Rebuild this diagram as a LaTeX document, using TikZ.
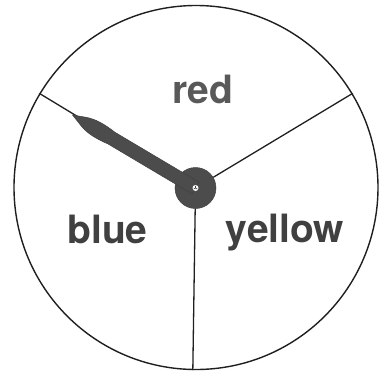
\documentclass[tikz,border=0pt]{standalone}
\usepackage{fontspec}
\setmainfont{TeX Gyre Heros}
\begin{document}
\begin{tikzpicture}[x=1bp,y=-1bp,
  rim/.style={draw=black!88, line width=1.4bp, circle, minimum size=364bp, inner sep=0pt},
  divider/.style={draw=black!88, line width=1.3bp},
  sector/.style={font=\fontsize{39bp}{42bp}\selectfont\bfseries, text=black!75, anchor=base, inner sep=0pt},
  hubstyle/.style={circle, fill=black!70, draw=black!75, line width=0.5bp, minimum size=41bp, inner sep=0pt},
  hand/.style={fill=black!70, draw=black!75, line width=0.5bp},
  pin/.style={circle, fill=white, minimum size=6bp, inner sep=0pt}]
\useasboundingbox (0,0) rectangle (382,373);
\node[rim] (wheel) at (196,187.5) {};
\node[hubstyle] (hub) at (195.5,188) {};
\draw[divider] (hub) -- (wheel.149.3);
\draw[divider] (hub) -- (wheel.31);
\draw[divider] (hub) -- (wheel.269);
\begin{scope}[shift={(hub.center)}, rotate=149.3]
  \path[hand] (0,-6.8) -- (98,-6.8) .. controls (110,-8.4) and (121,-8.4) .. (130,-5) -- (143,0)
     -- (130,5) .. controls (121,8.4) and (110,8.4) .. (98,6.8) -- (0,6.8) -- cycle;
\end{scope}
\node[pin] (pinhead) at (hub.center) {};
\draw[black!75, line width=0.6bp] (pinhead.center) -- ++(0,-2.2) (pinhead.center) -- ++(2,1.2) (pinhead.center) -- ++(-2,1.2);
\node[sector, text=black!65] (red) at (202.5,103) {red};
\node[sector] (blue) at (107.5,243) {blue};
\node[sector] (yellow) at (285,242) {yellow};
\end{tikzpicture}
\end{document}
